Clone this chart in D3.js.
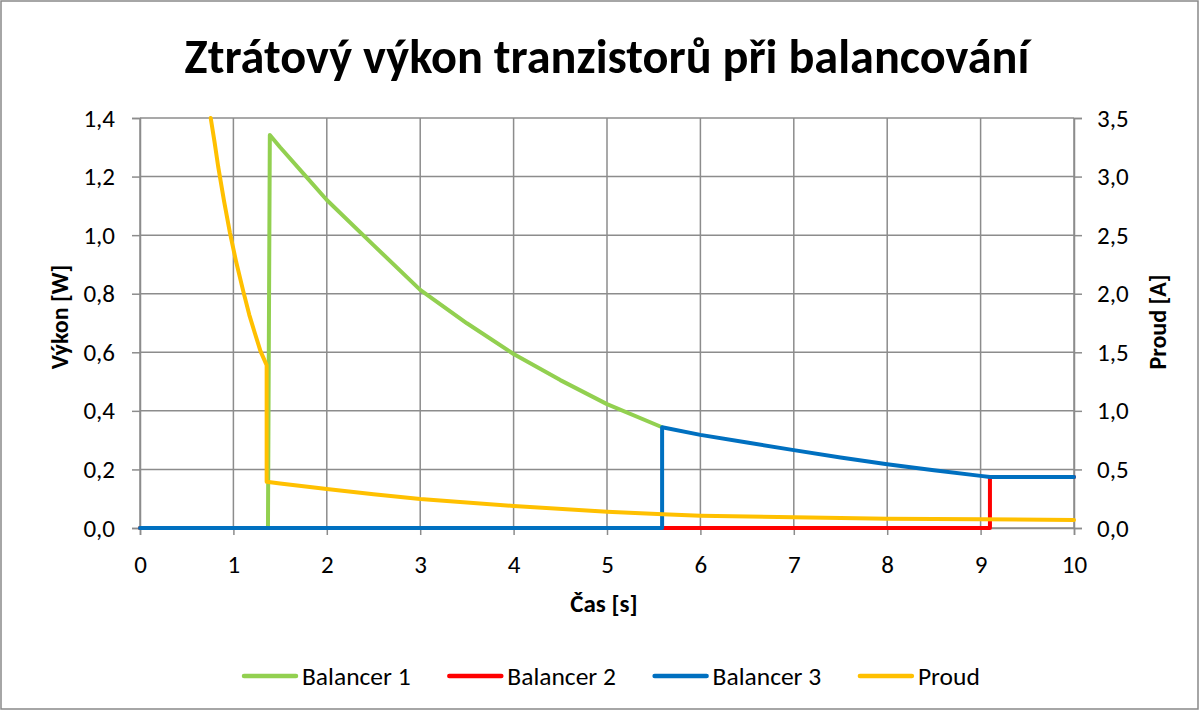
<!DOCTYPE html>
<html>
<head>
<meta charset="utf-8">
<script src="https://cdn.jsdelivr.net/npm/d3@7"></script>
<style>
  body { margin: 0; background: #fff; }
  text { font-family: Carlito, Lato, "Open Sans", sans-serif; fill: #000; }
</style>
</head>
<body>
<div id="chart"></div>
<script>
// data
var seriesNames = ["Balancer 1", "Balancer 2", "Balancer 3", "Proud"]
var seriesColors = ["#92d050", "#ff0000", "#0070c0", "#ffc000"]

var timeB1 = [0, 1.37, 1.39, 1.5, 1.75, 2, 2.5, 3, 3.5, 4, 4.5, 5, 5.59]
var powerB1 = [0, 0, 1.342, 1.30, 1.21, 1.12, 0.966, 0.813, 0.699, 0.594, 0.505, 0.423, 0.344]

var timeB2 = [0, 9.10, 9.10, 10]
var powerB2 = [0, 0, 0.174, 0.174]

var timeB3 = [0, 5.59, 5.59, 6, 6.5, 7, 7.5, 8, 8.5, 9, 9.10, 10]
var powerB3 = [0, 0, 0.344, 0.318, 0.292, 0.266, 0.241, 0.218, 0.197, 0.178, 0.174, 0.174]

var timeProud = [0.757, 0.80, 0.838, 0.90, 0.963, 1.03, 1.106, 1.17, 1.231, 1.29, 1.356, 1.356, 1.5, 2, 2.5, 3, 4, 5, 5.6, 6, 7, 8, 9, 10]
var proud = [3.5, 3.285, 3.08, 2.79, 2.52, 2.27, 2.02, 1.82, 1.66, 1.51, 1.39, 0.395, 0.38, 0.333, 0.288, 0.248, 0.188, 0.139, 0.117, 0.105, 0.091, 0.080, 0.074, 0.068]

var xTicks = [0, 1, 2, 3, 4, 5, 6, 7, 8, 9, 10]
var yLeftTicks = [0, 0.2, 0.4, 0.6, 0.8, 1.0, 1.2, 1.4]
var yRightTicks = [0, 0.5, 1.0, 1.5, 2.0, 2.5, 3.0, 3.5]

var W = 1200, H = 711
var plot = {left: 140, right: 1074, top: 118, bottom: 528}
var fontStack = "Carlito, Lato, 'Open Sans', sans-serif"

var svg = d3.select("#chart").append("svg")
    .attr("width", W)
    .attr("height", H)

// outer frame
svg.append("rect")
    .attr("x", 1).attr("y", 1)
    .attr("width", W - 3).attr("height", H - 3)
    .attr("fill", "#fff")
    .attr("stroke", "#898989")
    .attr("stroke-width", 1.5)

var x = d3.scaleLinear().domain([0, 10]).range([plot.left, plot.right])
var yL = d3.scaleLinear().domain([0, 1.4]).range([plot.bottom, plot.top])
var yR = d3.scaleLinear().domain([0, 3.5]).range([plot.bottom, plot.top])

var comma = function(d) { return d3.format(".1f")(d).replace(".", ",") }
var gridColor = "#8c8c8c"

// grid lines
svg.append("g").selectAll("line")
    .data(yLeftTicks)
    .enter().append("line")
    .attr("x1", plot.left).attr("x2", plot.right)
    .attr("y1", d => yL(d)).attr("y2", d => yL(d))
    .attr("stroke", gridColor).attr("stroke-width", 1.5)

svg.append("g").selectAll("line")
    .data(xTicks)
    .enter().append("line")
    .attr("x1", d => x(d)).attr("x2", d => x(d))
    .attr("y1", plot.top).attr("y2", plot.bottom)
    .attr("stroke", gridColor).attr("stroke-width", 1.5)

// axes
var xAxis = svg.append("g")
    .attr("transform", "translate(0," + plot.bottom + ")")
    .call(d3.axisBottom(x).tickValues(xTicks).tickFormat(d3.format("d")).tickSize(7).tickPadding(20))

var yAxisL = svg.append("g")
    .attr("transform", "translate(" + plot.left + ",0)")
    .call(d3.axisLeft(yL).tickValues(yLeftTicks).tickFormat(comma).tickSize(8).tickPadding(17))

var yAxisR = svg.append("g")
    .attr("transform", "translate(" + plot.right + ",0)")
    .call(d3.axisRight(yR).tickValues(yRightTicks).tickFormat(comma).tickSize(8).tickPadding(15))

;[xAxis, yAxisL, yAxisR].forEach(function(a) {
  a.selectAll("path.domain").attr("stroke", gridColor).attr("stroke-width", 1.5)
  a.selectAll(".tick line").attr("stroke", gridColor).attr("stroke-width", 1.5)
  a.selectAll(".tick text")
      .attr("font-family", fontStack)
      .attr("font-size", 25)
      .attr("fill", "#000")
})

// series
var lineL = d3.line().x(d => x(d[0])).y(d => yL(d[1]))
var lineR = d3.line().x(d => x(d[0])).y(d => yR(d[1]))

var seriesData = [
  d3.zip(timeB1, powerB1),
  d3.zip(timeB2, powerB2),
  d3.zip(timeB3, powerB3),
  d3.zip(timeProud, proud)
]

seriesData.forEach(function(pts, i) {
  svg.append("path")
      .datum(pts)
      .attr("fill", "none")
      .attr("stroke", seriesColors[i])
      .attr("stroke-width", 4)
      .attr("stroke-linejoin", "round")
      .attr("stroke-linecap", "round")
      .attr("d", i == 3 ? lineR : lineL)
})

// title
var title = svg.append("text")
    .attr("x", 607)
    .attr("y", 73)
    .attr("text-anchor", "middle")
    .attr("font-weight", "bold")
    .attr("font-size", 42)
    .text("Ztrátový výkon tranzistorů při balancování")
var tw = title.node().getComputedTextLength()
title.attr("font-size", 42 * 845 / tw)

// axis titles
svg.append("text")
    .attr("transform", "translate(68,317) rotate(-90)")
    .attr("text-anchor", "middle")
    .attr("font-weight", "bold")
    .attr("font-size", 24)
    .text("Výkon [W]")

svg.append("text")
    .attr("transform", "translate(1166,322) rotate(-90)")
    .attr("text-anchor", "middle")
    .attr("font-weight", "bold")
    .attr("font-size", 24)
    .text("Proud [A]")

svg.append("text")
    .attr("x", 604)
    .attr("y", 612)
    .attr("text-anchor", "middle")
    .attr("font-weight", "bold")
    .attr("font-size", 25)
    .text("Čas [s]")

// legend
var legend = svg.append("g").selectAll(".legend")
    .data(seriesNames)
    .enter().append("g")
    .attr("class", "legend")
    .attr("transform", (d, i) => "translate(" + (244 + i * 205.3) + ",676)")

legend.append("line")
    .attr("x1", 0).attr("x2", 52)
    .attr("y1", 0).attr("y2", 0)
    .attr("stroke", (d, i) => seriesColors[i])
    .attr("stroke-width", 4.5)
    .attr("stroke-linecap", "round")

legend.append("text")
    .attr("x", 58)
    .attr("y", 9)
    .attr("font-size", 25.5)
    .text(d => d)
</script>
</body>
</html>
